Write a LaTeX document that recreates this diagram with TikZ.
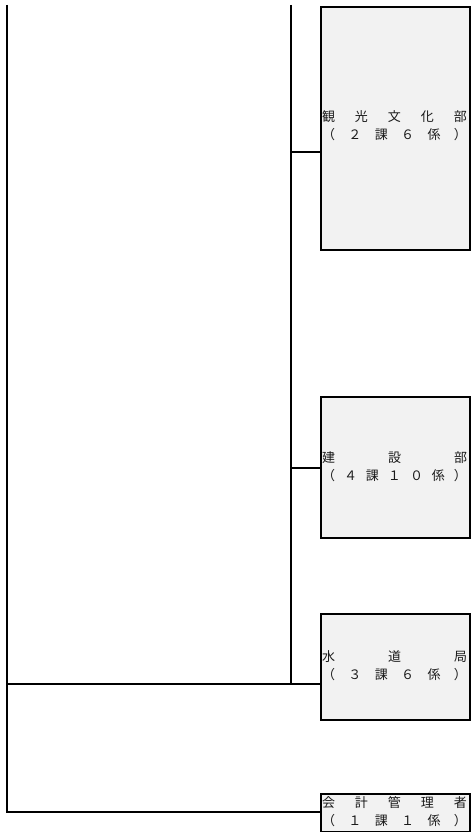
\documentclass[tikz,border=0pt]{standalone}
\usepackage{fontspec}
\newfontfamily\jp{Noto Sans CJK JP}
\definecolor{boxgray}{HTML}{F2F2F2}
\definecolor{txtgray}{HTML}{1A1A1A}
\begin{document}
\begin{tikzpicture}[x=1pt,y=-1pt,
  orgbox/.style={draw=black, fill=boxgray, line width=2.4pt, anchor=north west, minimum width=149pt, inner sep=0pt},
  link/.style={draw=black, line width=2.4pt},
  lbl/.style={font=\jp\fontsize{13}{18}\selectfont, text=txtgray, inner sep=0pt, align=center}]
\useasboundingbox (0,0) rectangle (471,832);
% boxes
\node[orgbox, minimum height=243pt] (b1) at (320,6) {};
\node[orgbox, minimum height=141pt] (b2) at (320,396) {};
\node[orgbox, minimum height=106pt] (b3) at (320,613) {};
\node[orgbox, minimum height=37.5pt] (b4) at (320,793) {};
% labels
\node[lbl] (t1) at (394.5,125.5) {\makebox[145pt][s]{観\hfill 光\hfill 文\hfill 化\hfill 部}\\\makebox[145pt][s]{（\hfill ２\hfill 課\hfill ６\hfill 係\hfill ）}};
\node[lbl] (t2) at (394.5,466.5) {\makebox[145pt][s]{建\hfill 設\hfill 部}\\\makebox[145pt][s]{（\hfill ４\hfill 課\hfill １\hfill ０\hfill 係\hfill ）}};
\node[lbl] (t3) at (394.5,666) {\makebox[145pt][s]{水\hfill 道\hfill 局}\\\makebox[145pt][s]{（\hfill ３\hfill 課\hfill ６\hfill 係\hfill ）}};
\node[lbl] (t4) at (394.5,812) {\makebox[145pt][s]{会\hfill 計\hfill 管\hfill 理\hfill 者}\\\makebox[145pt][s]{（\hfill １\hfill 課\hfill １\hfill 係\hfill ）}};
% trunks
\coordinate (otop) at (7,5);
\coordinate (obot) at (7,812);
\coordinate (o3) at (7,684);
\coordinate (itop) at (291,5);
\coordinate (ibot) at (291,684);
\coordinate (i1) at (291,152);
\coordinate (i2) at (291,468);
\draw[link] (otop) -- (obot) -- (obot -| b4.west);
\draw[link] (itop) -- (ibot);
\draw[link] (o3) -- (o3 -| b3.west);
\draw[link] (i1) -- (i1 -| b1.west);
\draw[link] (i2) -- (i2 -| b2.west);
\end{tikzpicture}
\end{document}
